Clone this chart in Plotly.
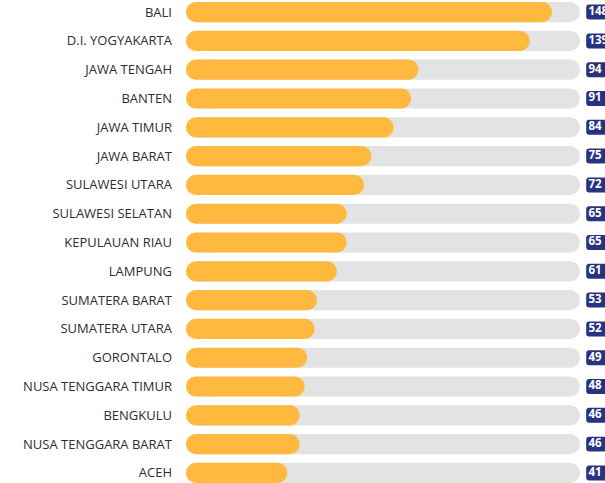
import plotly.graph_objects as go

# Provinces (top to bottom) and their scores
regions = [
    "BALI", "D.I. YOGYAKARTA", "JAWA TENGAH", "BANTEN", "JAWA TIMUR",
    "JAWA BARAT", "SULAWESI UTARA", "SULAWESI SELATAN", "KEPULAUAN RIAU",
    "LAMPUNG", "SUMATERA BARAT", "SUMATERA UTARA", "GORONTALO",
    "NUSA TENGGARA TIMUR", "BENGKULU", "NUSA TENGGARA BARAT", "ACEH",
]
values = [148, 139, 94, 91, 84, 75, 72, 65, 65, 61, 53, 52, 49, 48, 46, 46, 41]

YELLOW = "#FFB93F"
TRACK = "#E3E3E3"
NAVY = "#283380"

TRACK_END = 159.3   # where the grey track stops
TAG_START = 161.8   # left edge of the value tags
TAG_END = 180

fig = go.Figure()

# grey track, rounded on the right
fig.add_trace(go.Bar(
    y=regions, x=[TRACK_END] * len(regions), base=0,
    orientation="h", width=0.7,
    marker=dict(color=TRACK, cornerradius=10, line=dict(width=0)),
    hoverinfo="skip", showlegend=False,
))

# yellow value bar: drawn from value back to 0 so the rounded end is on the left
fig.add_trace(go.Bar(
    y=regions, x=[-v for v in values], base=values,
    orientation="h", width=0.7,
    marker=dict(color=YELLOW, cornerradius=10, line=dict(width=0)),
    customdata=values,
    hovertemplate="%{y}: %{customdata}<extra></extra>",
    showlegend=False,
))

# navy value tags at the right edge
fig.add_trace(go.Bar(
    y=regions, x=[TAG_START - TAG_END] * len(regions), base=TAG_END,
    orientation="h", width=0.52,
    marker=dict(color=NAVY, cornerradius=3, line=dict(width=0)),
    hoverinfo="skip", showlegend=False,
))
fig.add_trace(go.Scatter(
    y=regions, x=[TAG_START + 0.9] * len(regions),
    mode="text", text=[str(v) for v in values],
    textposition="middle right",
    textfont=dict(color="white", size=11.5, family="Open Sans", weight=700),
    hoverinfo="skip", showlegend=False, cliponaxis=True,
))

fig.update_layout(
    width=605, height=483,
    barmode="overlay",
    margin=dict(l=186, r=0, t=0, b=0),
    plot_bgcolor="white", paper_bgcolor="white",
    font=dict(family="Open Sans", color="#333333"),
    xaxis=dict(range=[0, 169.4], visible=False, fixedrange=True),
    yaxis=dict(
        range=[16.35, -0.42],
        showgrid=False, zeroline=False, showline=False,
        ticks="", ticklabelstandoff=13,
        tickfont=dict(size=13, color="#2e2e2e", family="Open Sans", weight=500),
        automargin=False, fixedrange=True,
    ),
)

# drop the browser's default page margin so the figure sits at the top-left corner
fig.write_html(
    "out.html",
    config={"displayModeBar": False},
    post_script="document.body.style.margin='0';",
)
